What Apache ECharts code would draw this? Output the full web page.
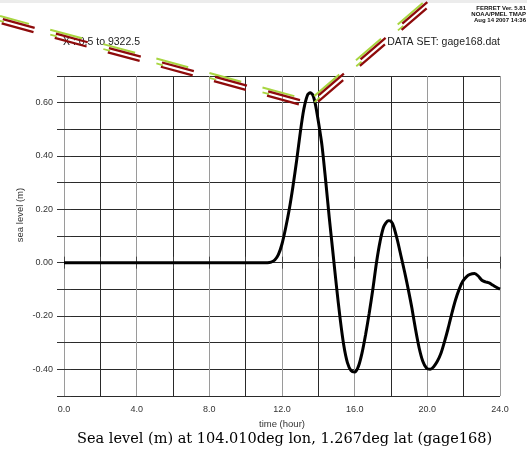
<!DOCTYPE html>
<html><head><meta charset="utf-8">
<script src="https://cdn.jsdelivr.net/npm/echarts@6/dist/echarts.min.js"></script>
<style>html,body{margin:0;padding:0;background:#fff}#c{width:527px;height:451px}</style>
</head><body><div id="c"></div>
<script>
// ---- data ----
const hours = [0, 11.2, 11.4, 11.6, 11.8, 12.0, 12.2, 12.4, 12.6, 12.8, 13.0, 13.2, 13.4, 13.55, 13.7, 13.85,
  14.0, 14.2, 14.4, 14.6, 14.8, 15.0, 15.2, 15.4, 15.6, 15.8, 16.0, 16.2, 16.4, 16.6, 16.8, 17.0,
  17.2, 17.4, 17.6, 17.85, 18.0, 18.15, 18.35, 18.55, 18.75, 18.95, 19.15, 19.35, 19.55, 19.75, 19.95, 20.15,
  20.35, 20.55, 20.75, 20.95, 21.15, 21.35, 21.55, 21.75, 21.95, 22.15, 22.35, 22.6, 22.8, 23.0, 23.2, 23.4,
  23.6, 23.8, 24.0];
const seaLevel = [0, 0, 0.002, 0.01, 0.03, 0.07, 0.13, 0.20, 0.285, 0.38, 0.485, 0.575, 0.628, 0.637, 0.628, 0.59,
  0.53, 0.44, 0.31, 0.17, 0.04, -0.09, -0.21, -0.31, -0.375, -0.405, -0.41, -0.39, -0.34, -0.27, -0.19, -0.10,
  0.0, 0.08, 0.135, 0.157, 0.155, 0.135, 0.085, 0.025, -0.035, -0.10, -0.17, -0.25, -0.32, -0.37, -0.395, -0.40,
  -0.39, -0.37, -0.34, -0.295, -0.245, -0.19, -0.14, -0.10, -0.07, -0.053, -0.044, -0.041, -0.05, -0.066, -0.072, -0.076,
  -0.084, -0.092, -0.099];
const xLabels = ['0.0', '4.0', '8.0', '12.0', '16.0', '20.0', '24.0'];
const yLabels = ['-0.40', '-0.20', '0.00', '0.20', '0.40', '0.60'];
// decorative striped overlay path (in data units)
const overlayHours = [-3.52, 13.51, 20.4];
const overlayLevels = [0.925, 0.609, 1.012];

const titleText = 'Sea level (m) at 104.010deg lon, 1.267deg lat (gage168)';
const chart = echarts.init(document.getElementById('c'), null, {renderer: 'canvas'});
const sans = 'Liberation Sans, Arial, sans-serif';
const option = {
  animation: false,
  backgroundColor: '#fff',
  title: [
    {text: titleText, left: 77, top: 432, padding: 0,
     textStyle: {fontFamily: 'DejaVu Serif', fontSize: 14.5, fontWeight: 'normal', color: '#000'}},
    {text: 'X : 0.5 to 9322.5', left: 63, top: 37, padding: 0,
     textStyle: {fontFamily: sans, fontSize: 10.5, fontWeight: 'normal', color: '#222'}},
    {text: 'DATA SET: gage168.dat', right: 27, top: 37, padding: 0,
     textStyle: {fontFamily: sans, fontSize: 10.5, fontWeight: 'normal', color: '#222'}}
  ],
  grid: {left: 64, top: 76, width: 436, height: 320},
  xAxis: [{
    type: 'value', min: 0, max: 24, interval: 2, position: 'bottom',
    axisLine: {show: false},
    axisTick: {show: true, length: 6, lineStyle: {color: '#444'}},
    axisLabel: {margin: 9, fontSize: 9, fontFamily: sans, color: '#333',
      formatter: v => { const k = Math.round(v); return k % 4 === 0 ? xLabels[k / 4] : ''; }},
    splitLine: {show: true, lineStyle: {color: ['#9a9a9a', '#2a2a2a'], width: 1}},
    name: 'time (hour)', nameLocation: 'middle', nameGap: 19,
    nameTextStyle: {fontSize: 9.5, fontFamily: sans, color: '#333'}
  }, {
    type: 'value', min: 0, max: 24, interval: 2, position: 'top',
    axisLine: {show: false}, axisTick: {show: true, length: 6, lineStyle: {color: '#444'}},
    axisLabel: {show: false}, splitLine: {show: false}
  }],
  yAxis: [{
    type: 'value', min: -0.5, max: 0.7, interval: 0.1, position: 'left',
    axisLine: {show: false},
    axisTick: {show: true, length: 7, lineStyle: {color: '#333'}},
    axisLabel: {margin: 11, fontSize: 9, fontFamily: sans, color: '#333',
      formatter: v => { const k = Math.round(v * 10); return (k % 2 === 0 && k >= -4 && k <= 6) ? yLabels[(k + 4) / 2] : ''; }},
    splitLine: {show: true, lineStyle: {color: '#2a2a2a', width: 1}}
  }, {
    type: 'value', min: -0.5, max: 0.7, interval: 0.1, position: 'right',
    axisLine: {show: false}, axisTick: {show: true, length: 7, lineStyle: {color: '#333'}},
    axisLabel: {show: false}, splitLine: {show: false}
  }],
  series: [{
    type: 'line', xAxisIndex: 0, yAxisIndex: 0,
    data: hours.map((h, i) => [h, seaLevel[i]]),
    showSymbol: false, smooth: 0.25, clip: false,
    lineStyle: {color: '#000', width: 3}
  }]
};
chart.setOption(option);

// build decorative striped overlay
const base = overlayHours.map((h, i) => chart.convertToPixel({xAxisIndex: 0, yAxisIndex: 0}, [h, overlayLevels[i]]));
function offsetPolyline(pts, d) {
  const ns = [];
  for (let i = 0; i < pts.length - 1; i++) {
    const dx = pts[i + 1][0] - pts[i][0], dy = pts[i + 1][1] - pts[i][1], L = Math.hypot(dx, dy);
    ns.push([-dy / L, dx / L]);
  }
  return pts.map((p, i) => {
    if (i === 0) return [p[0] + ns[0][0] * d, p[1] + ns[0][1] * d];
    if (i === pts.length - 1) return [p[0] + ns[i - 1][0] * d, p[1] + ns[i - 1][1] * d];
    let mx = ns[i - 1][0] + ns[i][0], my = ns[i - 1][1] + ns[i][1];
    const L = Math.hypot(mx, my); mx /= L; my /= L;
    const c = mx * ns[i][0] + my * ns[i][1];
    return [p[0] + mx * d / c, p[1] + my * d / c];
  });
}
const green = '#a8d640', red = '#8e0b0b';
const strokes = [
  {d: 0, color: green, w: 2, off: 3, dash: [33, 22]},
  {d: 2.3, color: red, w: 2.3, off: -3.5, dash: [33, 22]},
  {d: 4.7, color: green, w: 1.8, off: 1.7, dash: [7, 48]},
  {d: 6.7, color: red, w: 2.3, off: -3.5, dash: [33, 22]}
];
const graphics = [
  {type: 'rect', left: 0, top: 0, shape: {width: 527, height: 3}, style: {fill: '#ececec'}, silent: true, z: 50},
  {type: 'text', x: 20, y: 215, rotation: Math.PI / 2,
   style: {text: 'sea level (m)', fontSize: 9.5, fontFamily: sans, fill: '#333', align: 'center', verticalAlign: 'middle'},
   silent: true, z: 50},
  {type: 'text', x: 526, y: 5,
   style: {text: 'FERRET Ver. 5.81\nNOAA/PMEL TMAP\nAug 14 2007 14:36', fontSize: 6, lineHeight: 6, fontWeight: 'bold',
           fontFamily: sans, fill: '#111', align: 'right', verticalAlign: 'top'},
   silent: true, z: 50}
];
strokes.forEach(s => {
  graphics.push({type: 'polyline', shape: {points: offsetPolyline(base, s.d)}, silent: true, z: 100,
    style: {stroke: s.color, lineWidth: s.w, lineDash: s.dash, lineDashOffset: s.off, fill: null, lineCap: 'butt'}});
});
chart.setOption({graphic: graphics});
</script>
</body></html>
